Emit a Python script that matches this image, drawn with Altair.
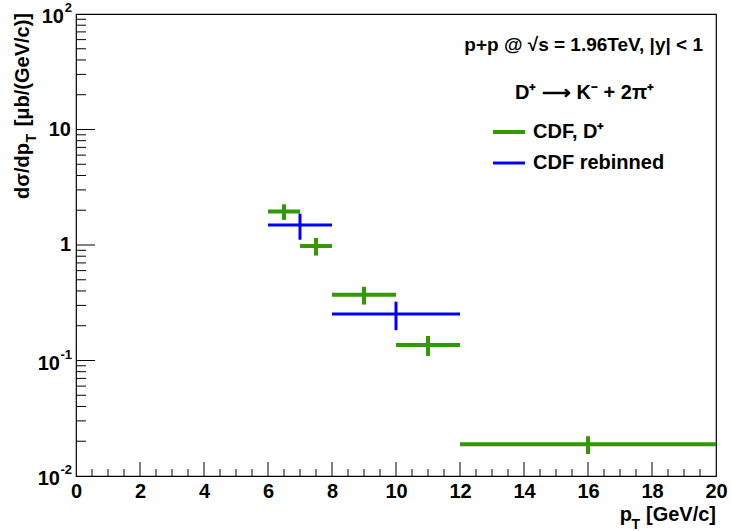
import altair as alt
import pandas as pd

# ---------------- data ----------------
cdf_lo = [6, 7, 8, 10, 12]
cdf_hi = [7, 8, 10, 12, 20]
cdf_pt = [6.5, 7.5, 9, 11, 16]
cdf_val = [1.95, 0.98, 0.37, 0.136, 0.0188]
cdf_err = [0.30, 0.17, 0.065, 0.027, 0.0033]

reb_lo = [6, 8]
reb_hi = [8, 12]
reb_pt = [7, 10]
reb_val = [1.49, 0.253]
reb_err = [0.38, 0.07]

x_major = [0, 2, 4, 6, 8, 10, 12, 14, 16, 18, 20]
x_minor = [0.5, 1, 1.5, 2.5, 3, 3.5, 4.5, 5, 5.5, 6.5, 7, 7.5, 8.5, 9, 9.5,
           10.5, 11, 11.5, 12.5, 13, 13.5, 14.5, 15, 15.5, 16.5, 17, 17.5,
           18.5, 19, 19.5]
y_major = [0.01, 0.1, 1, 10, 100]
y_minor = [k * 10.0 ** e for e in (-2, -1, 0, 1) for k in range(2, 10)]

y_label_vals = [100, 10, 1, 0.1, 0.01]
y_label_base = ["10", "10", "1", "10", "10"]
y_label_exp = ["2", "", "", "-1", "-2"]

GREEN = "#339900"
BLUE = "#0000ff"
FONT = "Liberation Sans"
W, H = 640, 462

cdf = pd.DataFrame({"lo": cdf_lo, "hi": cdf_hi, "pt": cdf_pt, "val": cdf_val,
                    "elo": [v - e for v, e in zip(cdf_val, cdf_err)],
                    "ehi": [v + e for v, e in zip(cdf_val, cdf_err)]})
reb = pd.DataFrame({"lo": reb_lo, "hi": reb_hi, "pt": reb_pt, "val": reb_val,
                    "elo": [v - e for v, e in zip(reb_val, reb_err)],
                    "ehi": [v + e for v, e in zip(reb_val, reb_err)]})

xs = alt.Scale(domain=[0, 20], nice=False, zero=False)
ys = alt.Scale(type="log", domain=[0.01, 100], nice=False)

xaxis = alt.Axis(values=x_major, labelFontSize=20, labelFont=FONT,
                 labelFontWeight="bold", labelColor="black", ticks=False,
                 domain=False, grid=False, title=None, labelPadding=5,
                 labelFlush=False)


def X(f):
    return alt.X(f, type="quantitative", scale=xs, axis=xaxis)


def Y(f):
    return alt.Y(f, type="quantitative", scale=ys, axis=None)


# ---- ticks ----
xmaj = alt.Chart(pd.DataFrame({"x": x_major[1:-1]})).mark_rule(color="black", strokeWidth=1).encode(
    x=X("x"), y=alt.value(H), y2=alt.value(H - 14))
xmin = alt.Chart(pd.DataFrame({"x": x_minor})).mark_rule(color="black", strokeWidth=1).encode(
    x=X("x"), y=alt.value(H), y2=alt.value(H - 7))
ymaj = alt.Chart(pd.DataFrame({"y": y_major[1:-1]})).mark_rule(color="black", strokeWidth=1).encode(
    y=Y("y"), x=alt.value(0), x2=alt.value(19))
ymin = alt.Chart(pd.DataFrame({"y": y_minor})).mark_rule(color="black", strokeWidth=1).encode(
    y=Y("y"), x=alt.value(0), x2=alt.value(10))


# ---- data marks ----
def bars(df, color, sw):
    h = alt.Chart(df).mark_rule(color=color, strokeWidth=sw, strokeCap="butt").encode(
        x=X("lo"), x2="hi", y=Y("val"))
    v = alt.Chart(df).mark_rule(color=color, strokeWidth=sw, strokeCap="butt").encode(
        x=X("pt"), y=Y("elo"), y2="ehi")
    return [h, v]


data_layers = bars(cdf, GREEN, 4) + bars(reb, BLUE, 3)

# ---- y tick labels ----
lab = pd.DataFrame({"v": y_label_vals, "b": y_label_base, "e": y_label_exp})
plain = lab[lab.e == ""]
pos = lab[(lab.e != "") & (~lab.e.str.startswith("-"))]
neg = lab[lab.e.str.startswith("-")]


def tx(df, field, xpix, size, dy, align="right"):
    return alt.Chart(df).mark_text(font=FONT, fontWeight="bold", fontSize=size, align=align,
                                   baseline="middle", dy=dy, color="black").encode(
        y=Y("v"), x=alt.value(xpix), text=alt.Text(field + ":N"))


ylabels = [tx(plain, "b", -5, 20, 0),
           tx(pos, "b", -12, 20, 3), tx(pos, "e", -4, 13, -6),
           tx(neg, "b", -16, 20, 3), tx(neg, "e", -4, 13, -6)]


# ---- free text ----
def text(s, x, y, size=20, align="left", baseline="alphabetic", angle=0, color="black"):
    kw = dict(font=FONT, fontWeight="bold", fontSize=size, align=align,
              baseline=baseline, color=color)
    if angle:
        kw["angle"] = angle
    return alt.Chart(pd.DataFrame({"t": [s]})).mark_text(**kw).encode(
        x=alt.value(x), y=alt.value(y), text="t:N")


titles = [
    # x title
    text("[GeV/c]", 640, 507, align="right"),
    text("T", 564, 515, size=14, align="right"),
    text("p", 556, 507, align="right"),
    # y title (rotated)
    text("[\u03bcb/(GeV/c)]", -47, -1, align="right", angle=270),
    text("T", -40, 120, size=14, align="right", angle=270),
    text("d\u03c3/dp", -47, 129, align="right", angle=270),
    # annotations
    text("p+p @ \u221as = 1.96TeV, |y| < 1", 627, 31, size=19, align="right", baseline="middle"),
    text("D\u207a \u27f6 K\u207b + 2\u03c0\u207a", 439, 79, size=20, baseline="middle"),
    # legend
    text("CDF, D\u207a", 457, 118, baseline="middle"),
    text("CDF rebinned", 457, 149, baseline="middle"),
]

leg_lines = [
    alt.Chart(pd.DataFrame({"a": [0]})).mark_rule(color=GREEN, strokeWidth=4).encode(
        x=alt.value(417), x2=alt.value(449), y=alt.value(118)),
    alt.Chart(pd.DataFrame({"a": [0]})).mark_rule(color=BLUE, strokeWidth=3).encode(
        x=alt.value(417), x2=alt.value(449), y=alt.value(149)),
]

chart = alt.layer(xmaj, xmin, ymaj, ymin, *data_layers, *ylabels, *titles, *leg_lines).properties(
    width=W, height=H,
    padding={"left": 76, "top": 14, "right": 15, "bottom": 55},
    autosize=alt.AutoSizeParams(type="none"),
    background="white",
).configure_view(stroke="black", strokeWidth=1.2)

chart.save("out.html", embed_options={"renderer": "svg", "actions": False})
